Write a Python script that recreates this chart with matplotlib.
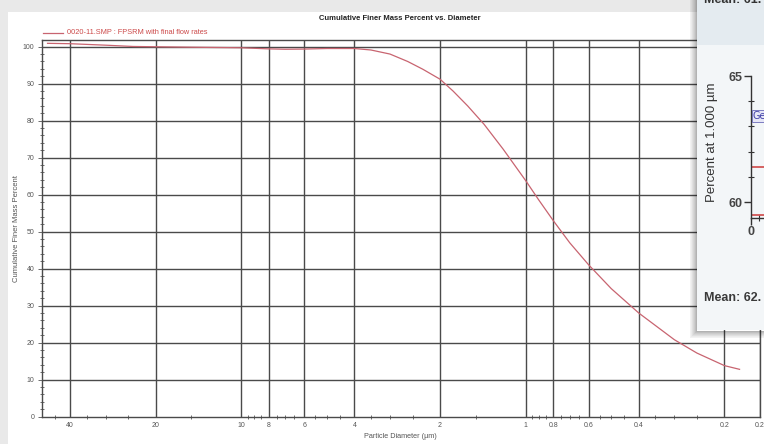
import matplotlib
matplotlib.use("Agg")
import matplotlib.pyplot as plt
from matplotlib.patches import Rectangle
from matplotlib.ticker import NullFormatter

# ---- data ------------------------------------------------------------
diameter_um = [48, 40, 30, 24, 15, 10, 8, 7, 6, 5, 4, 3.5, 3, 2.6, 2.3, 2,
               1.8, 1.6, 1.4, 1.2, 1.0, 0.9, 0.8, 0.7, 0.6, 0.5, 0.4, 0.3,
               0.25, 0.2, 0.177]
finer_pct = [100.9, 100.8, 100.4, 100.05, 99.85, 99.7, 99.4, 99.3, 99.35,
             99.5, 99.5, 99.1, 98.0, 96.0, 93.9, 91.2, 88.0, 84.0, 79.0,
             72.3, 63.8, 58.6, 53.0, 47.0, 41.0, 34.6, 28.0, 20.8, 17.2,
             13.8, 12.8]

x_ticks = [40, 20, 10, 8, 6, 4, 2, 1, 0.8, 0.6, 0.4, 0.2, 0.15]
x_tick_labels = ["40", "20", "10", "8", "6", "4", "2", "1", "0.8", "0.6",
                 "0.4", "0.2", "0.2"]
x_minor = [45, 35, 30, 25, 15, 9.5, 9, 8.5, 7.5, 7, 6.5, 5.5, 5, 4.5, 3.5,
           3, 2.5, 1.5, 0.95, 0.9, 0.85, 0.75, 0.7, 0.65, 0.55, 0.5, 0.45,
           0.35, 0.3, 0.25]
y_ticks = [0, 10, 20, 30, 40, 50, 60, 70, 80, 90, 100]

series_label = "0020-11.SMP : FPSRM with final flow rates"

# overlay window (control chart of percent at 1 µm)
inset_limits = [61.4, 59.5]
inset_point = 63.4
inset_yticks = [60, 65]

W, H = 764, 444


def fx(px):
    return px / W


def fy(py):
    return 1 - py / H


sans = ["Liberation Sans", "DejaVu Sans"]

fig = plt.figure(figsize=(W / 100, H / 100), dpi=100)
fig.patch.set_facecolor("#e9e9e9")
fig.add_artist(Rectangle((fx(8), 0), 1, fy(12), transform=fig.transFigure,
                         facecolor="white", edgecolor="none", zorder=-2))

# ---- main chart -------------------------------------------------------
ax = fig.add_axes([fx(41.5), fy(416.7), fx(760) - fx(41.5), (416.7 - 40) / H])
ax.set_xscale("log")
ax.set_xlim(50.4, 0.1507)
ax.set_ylim(0, 101.8)

grid_kw = dict(color="#4a4a4a", linewidth=1.0, zorder=1)
for xv in x_ticks:
    ax.axvline(xv, **grid_kw)
for yv in y_ticks[1:]:
    ax.axhline(yv, **grid_kw)

ax.plot(diameter_um, finer_pct, color="#c86470", linewidth=0.9, zorder=3)

ax.set_xticks(x_ticks)
ax.set_xticklabels(x_tick_labels)
ax.set_xticks(x_minor, minor=True)
ax.xaxis.set_minor_formatter(NullFormatter())
ax.set_yticks(y_ticks)
ax.set_yticks(range(0, 101, 2), minor=True)
ax.tick_params(which="major", length=0, labelsize=5, labelcolor="#555555",
               pad=4)
ax.tick_params(which="minor", direction="inout", length=3, width=0.6,
               color="#555555")
ax.tick_params(axis="y", which="major", direction="out", length=3,
               width=0.6, color="#555555", pad=2)
for lbl in ax.get_xticklabels() + ax.get_yticklabels():
    lbl.set_family(sans)
for sp in ax.spines.values():
    sp.set_color("#4a4a4a")
    sp.set_linewidth(1.0)

ax.set_xlabel("Particle Diameter (µm)", fontsize=5.2, color="#555555",
              family=sans, labelpad=3)
ax.set_ylabel("Cumulative Finer Mass Percent", fontsize=5.5,
              color="#555555", family=sans, labelpad=2)

fig.text(fx(400), fy(19), "Cumulative Finer Mass Percent vs. Diameter",
         ha="center", va="center", fontsize=5.5, fontweight="bold",
         color="#222222", family=sans)

# legend
fig.add_artist(plt.Line2D([fx(43), fx(63)], [fy(33), fy(33)],
                          transform=fig.transFigure, color="#c86470",
                          linewidth=0.9))
fig.text(fx(67), fy(33), series_label, ha="left", va="center", fontsize=5.3,
         color="#cc4a4a", family=sans)

# ---- overlay window ---------------------------------------------------
win_left, win_bottom = 697, 330
for i, a in enumerate([0.05, 0.08, 0.12, 0.16, 0.2, 0.25, 0.3]):
    # left and bottom drop shadow
    fig.add_artist(Rectangle((fx(win_left - 7 + i), fy(win_bottom + 7 - i)),
                             fx(1.2), 1, transform=fig.transFigure,
                             facecolor="black", alpha=a, edgecolor="none",
                             zorder=2))
    fig.add_artist(Rectangle((fx(win_left - 7 + i), fy(win_bottom + 8 - i)),
                             1, fx(1.2) * W / H, transform=fig.transFigure,
                             facecolor="black", alpha=a, edgecolor="none",
                             zorder=2))
fig.add_artist(Rectangle((fx(win_left), fy(win_bottom)), 1, 1,
                         transform=fig.transFigure, facecolor="#f3f6f8",
                         edgecolor="none", zorder=3))
fig.add_artist(Rectangle((fx(win_left), fy(45)), 1, 1,
                         transform=fig.transFigure, facecolor="#e4ebf0",
                         edgecolor="none", zorder=3))
fig.text(fx(704), fy(0), "Mean: 61.", ha="left", va="center", fontsize=9,
         fontweight="bold", color="#333333", family=sans, zorder=6)
fig.text(fx(704), fy(298), "Mean: 62.", ha="left", va="center", fontsize=9,
         fontweight="bold", color="#3a3a3a", family=sans, zorder=6)
fig.text(fx(712), fy(142), "Percent at 1.000 µm", ha="center", va="center",
         rotation=90, fontsize=9.5, color="#333333", family=sans, zorder=6)

inset = fig.add_axes([fx(751), fy(218), 0.2, (218 - 76) / H])
inset.set_zorder(6)
inset.patch.set_visible(False)
inset.set_ylim(59.37, 65)
inset.set_xlim(0, 10)
for sp in ["top", "right"]:
    inset.spines[sp].set_visible(False)
for sp in ["left", "bottom"]:
    inset.spines[sp].set_color("#333333")
    inset.spines[sp].set_linewidth(1.0)
for yv in inset_limits:
    inset.axhline(yv, color="#d04848", linewidth=1.2)
inset.text(0.1, inset_point, "Ge", fontsize=7, color="#4040a8",
           va="center", ha="left",
           bbox=dict(boxstyle="square,pad=0.1", facecolor="#e6e6f6",
                     edgecolor="#6a6ab8", linewidth=0.6))
inset.set_yticks(inset_yticks)
inset.set_yticks([61, 62, 63, 64], minor=True)
inset.set_xticks([0])
inset.set_xticks([0.5], minor=True)
inset.tick_params(which="major", length=5, width=1.0, color="#333333",
                  labelsize=9, labelcolor="#444444", pad=1)
inset.tick_params(which="minor", direction="inout", length=4, width=0.8,
                  color="#333333")
for lbl in inset.get_xticklabels() + inset.get_yticklabels():
    lbl.set_family(sans)
    lbl.set_fontweight("bold")

fig.savefig("out.png", dpi=100, facecolor=fig.get_facecolor())
